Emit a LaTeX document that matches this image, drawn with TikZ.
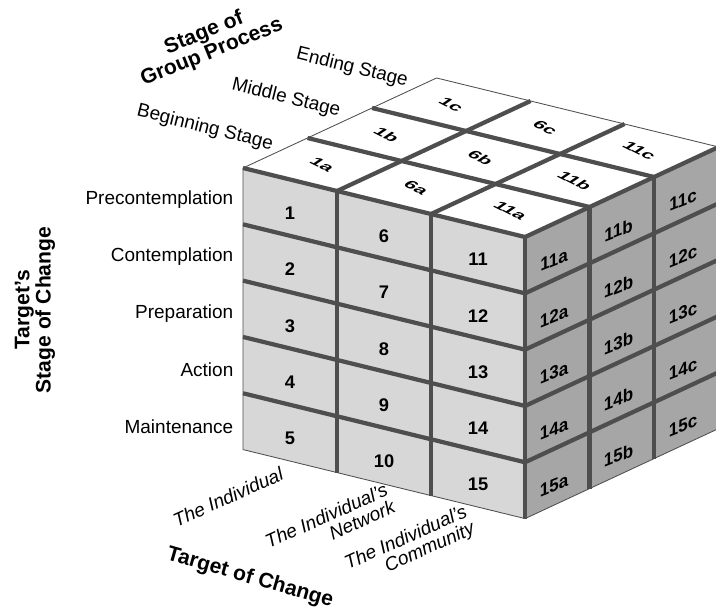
\documentclass[tikz,border=0pt]{standalone}
\usepackage{fontspec}
\setmainfont{Liberation Sans}
\definecolor{frontgray}{HTML}{D7D7D7}
\definecolor{sidegray}{HTML}{A6A6A6}
\definecolor{linegray}{HTML}{4E4E4E}
\begin{document}
\begin{tikzpicture}[x=0.025cm, y=-0.025cm]

    \tikzstyle{stagelabel} = [font=\fontsize{13.5}{15}\selectfont, inner sep=1pt]
    \tikzstyle{axistitle} = [font=\fontsize{15}{13.5}\selectfont\bfseries, align=center, inner sep=1pt]
    \tikzstyle{targetlabel} = [font=\fontsize{13.5}{13}\selectfont\itshape, align=right, rotate=24, inner sep=1pt]
    \tikzstyle{frontnum} = [font=\fontsize{13}{13}\selectfont\bfseries, inner sep=1pt]
    \tikzstyle{sidenum} = [frontnum, cm={0.93,0.37,0,1,(0,0)}]
    \tikzstyle{topnum} = [font=\fontsize{14}{14}\selectfont\bfseries, inner sep=1pt, cm={0.89,-0.45,0.62,0.42,(0,0)}]
    \tikzstyle{mortar} = [line width=3pt, draw=linegray]
    \tikzstyle{rim} = [line width=0.6pt, draw=linegray, line join=round]

    \useasboundingbox (0,0) rectangle (716,610);

    % the cube: x = columns, y = rows, z = depth
    \begin{scope}[shift={(243,168)}, x={(2.35cm,-0.575cm)}, y={(0cm,-1.4075cm)}, z={(1.6125cm,0.75cm)}]
        \fill[frontgray] (0,0,0) -- (3,0,0) -- (3,5,0) -- (0,5,0) -- cycle;
        \fill[sidegray] (3,0,0) -- (3,0,3) -- (3,5,3) -- (3,5,0) -- cycle;
        \fill[white] (0,0,0) -- (3,0,0) -- (3,0,3) -- (0,0,3) -- cycle;

        \foreach \i in {1,2,3} \draw[mortar] (\i,0,0) -- (\i,5,0);
        \foreach \j in {0,...,4} \draw[mortar] (0,\j,0) -- (3,\j,0);
        \foreach \k in {1,2} \draw[mortar] (3,0,\k) -- (3,5,\k);
        \foreach \j in {0,...,4} \draw[mortar] (3,\j,0) -- (3,\j,3);
        \foreach \i in {1,2} \draw[mortar] (\i,0,0) -- (\i,0,3);
        \foreach \k in {1,2} \draw[mortar] (0,0,\k) -- (3,0,\k);
        \draw[rim] (0,0,0) -- (0,5,0) -- (3,5,0) -- (3,5,3) -- (3,0,3) -- (0,0,3) -- cycle;

        \foreach \i in {0,1,2}
            \foreach \j in {0,...,4} {
                \pgfmathtruncatemacro\n{5*\i+\j+1}
                \node[frontnum] (f\n) at (\i+0.5,\j+0.6,0) {\n};
            }
        \foreach \k/\s in {0/a,1/b,2/c}
            \foreach \j in {0,...,4} {
                \pgfmathtruncatemacro\n{11+\j}
                \node[sidenum] (s\n\s) at (3,\j+0.65,\k+0.45) {\n\s};
            }
        \foreach \i/\m in {0/1,1/6,2/11}
            \foreach \k/\s in {0/a,1/b,2/c}
                \node[topnum] (t\m\s) at (\i+0.5,0,\k+0.5) {\m\s};
    \end{scope}

    \node[axistitle, rotate=22] (grouptitle) at (208,43) {Stage of\\Group Process};
    \node[stagelabel, rotate=-14] (ending) at (352,68) {Ending Stage};
    \node[stagelabel, rotate=-14] (middle) at (286,98) {Middle Stage};
    \node[stagelabel, rotate=-14] (beginning) at (205,128) {Beginning Stage};

    \node[axistitle, rotate=90] (stagetitle) at (35,310) {Target's\\Stage of Change};
    \node[stagelabel, anchor=east] (precon) at (235,200) {Precontemplation};
    \node[stagelabel, anchor=east] (contemp) at (235,257) {Contemplation};
    \node[stagelabel, anchor=east] (prep) at (235,314) {Preparation};
    \node[stagelabel, anchor=east] (action) at (235,370) {Action};
    \node[stagelabel, anchor=east] (maint) at (235,427) {Maintenance};

    \node[targetlabel] (individual) at (228,497) {The Individual};
    \node[targetlabel] (network) at (330,524) {The Individual's\\Network};
    \node[targetlabel] (community) at (410,547) {The Individual's\\Community};
    \node[axistitle, rotate=-16] (targettitle) at (250,578) {Target of Change};

\end{tikzpicture}
\end{document}
